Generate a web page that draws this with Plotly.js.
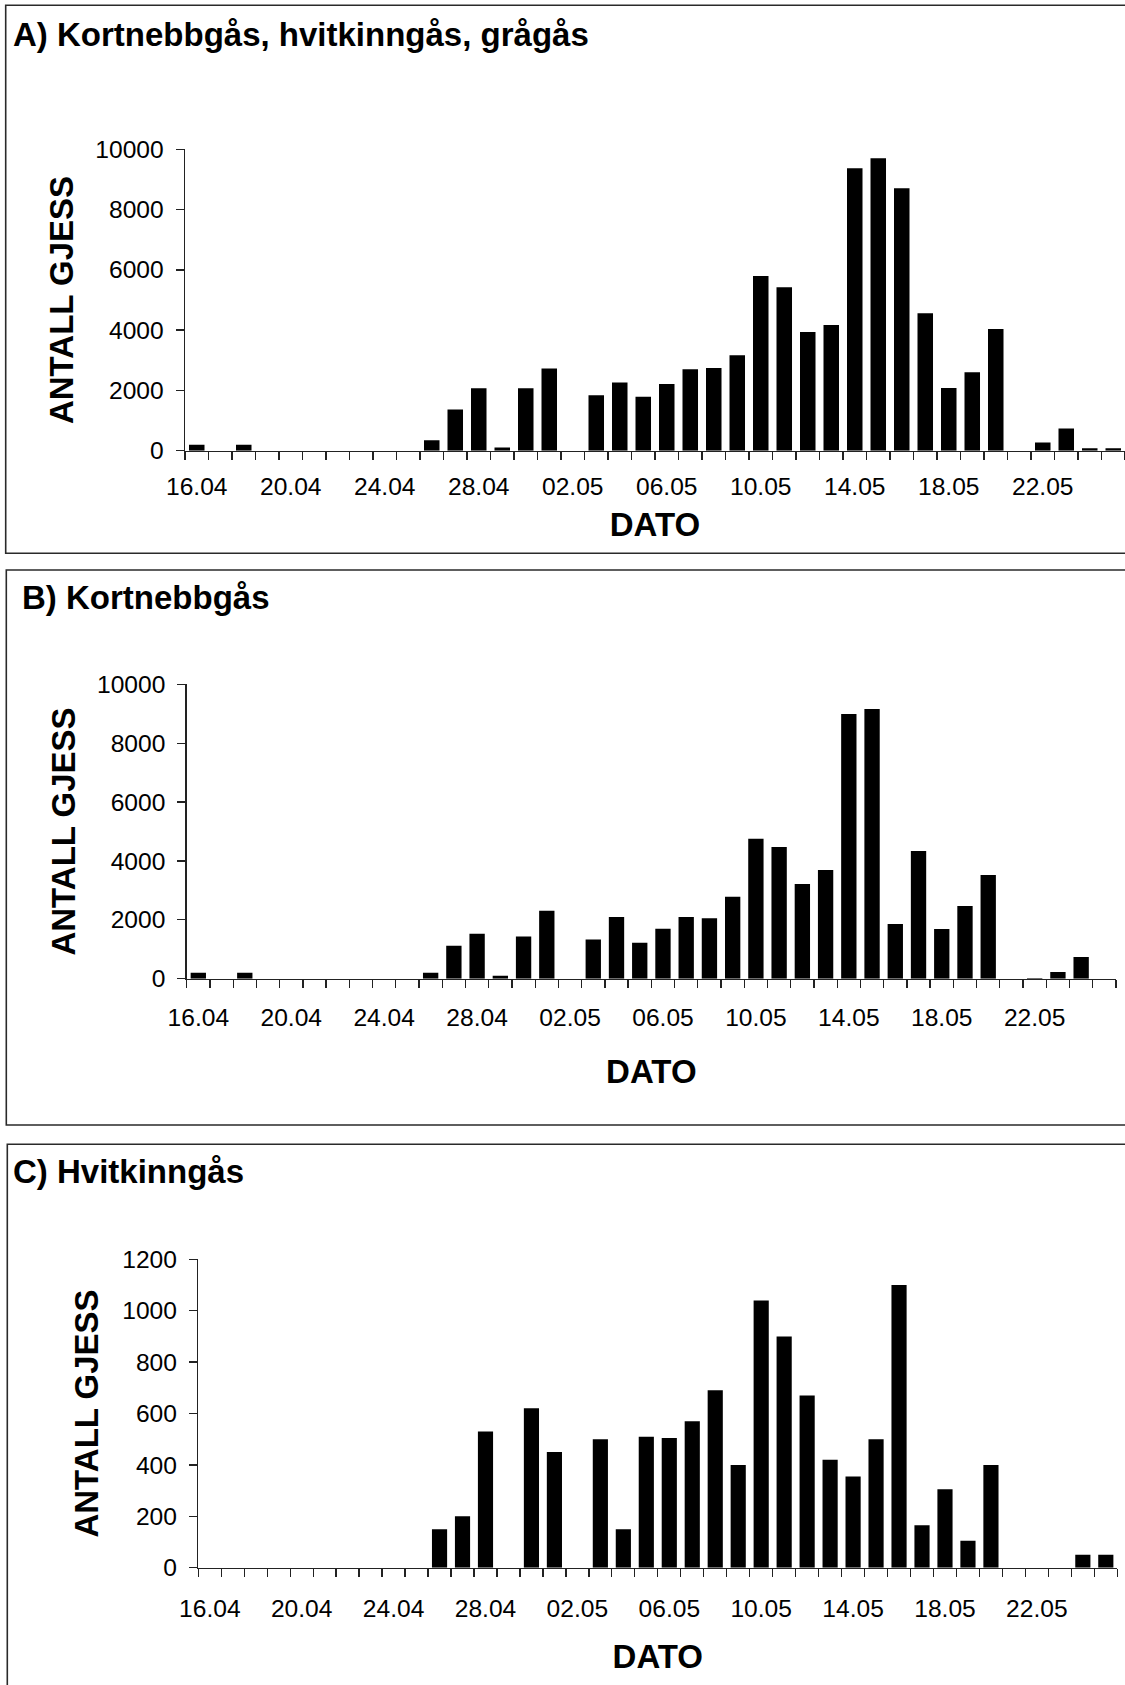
<!DOCTYPE html>
<html><head><meta charset="utf-8">
<script src="https://cdn.plot.ly/plotly-3.0.1.min.js"></script>
<style>html,body{margin:0;padding:0;overflow:hidden;background:#fff}</style>
</head><body>
<div id="chart" style="width:1125px;height:1685px"></div>
<script>
// Categories (one per day)
const dates = ['16.04','17.04','18.04','19.04','20.04','21.04','22.04','23.04','24.04','25.04',
  '26.04','27.04','28.04','29.04','30.04','01.05','02.05','03.05','04.05','05.05',
  '06.05','07.05','08.05','09.05','10.05','11.05','12.05','13.05','14.05','15.05',
  '16.05','17.05','18.05','19.05','20.05','21.05','22.05','23.05','24.05','25.05'];

// A) Kortnebbgås, hvitkinngås, grågås
const countsAll = [200,0,200,0,0,0,0,0,0,0,
  350,1370,2070,110,2070,2730,0,1840,2260,1790,
  2210,2700,2740,3170,5800,5420,3940,4170,9370,9700,
  8710,4560,2080,2600,4040,0,270,740,80,80];

// B) Kortnebbgås
const countsKortnebb = [200,0,200,0,0,0,0,0,0,0,
  200,1120,1530,100,1430,2310,0,1330,2100,1220,
  1700,2100,2050,2780,4750,4470,3220,3690,8990,9160,
  1860,4340,1690,2470,3520,0,25,230,740,0];

// C) Hvitkinngås
const countsHvitkinn = [0,0,0,0,0,0,0,0,0,0,
  150,200,530,0,620,450,0,500,150,510,
  505,570,690,400,1040,900,670,420,355,500,
  1100,165,305,105,400,0,0,0,50,50];

const yTicksAB = [0,2000,4000,6000,8000,10000];
const yTicksC = [0,200,400,600,800,1000,1200];
const panelTitles = ['A) Kortnebbgås, hvitkinngås, grågås','B) Kortnebbgås','C) Hvitkinngås'];
const xTitle = 'DATO';
const yTitle = 'ANTALL GJESS';

const W = 1125, H = 1685;
const FONT = 'Liberation Sans, Arial, sans-serif';
const px = v => v / W;
const py = v => 1 - v / H;

const xTickText = dates.map((d, i) => (i % 4 === 0 ? d : ''));

function xAxis(x0, x1, anchor, labStand, titleStand) {
  return {
    domain: [px(x0), Math.min(1, px(x1))], anchor: anchor, type: 'category',
    range: [-0.5, dates.length - 0.5], tickmode: 'array', tickvals: dates, ticktext: xTickText,
    tickson: 'boundaries', ticks: 'outside', ticklen: 8, tickwidth: 1.3, tickcolor: '#222',
    showline: true, linecolor: '#222', linewidth: 1.4, showgrid: false, zeroline: false,
    tickangle: 0, ticklabelstandoff: labStand,
    tickfont: {family: FONT, size: 24.6, color: '#000'},
    title: {text: xTitle, standoff: titleStand, font: {family: FONT, size: 33, weight: 'bold', color: '#000'}},
    automargin: false, fixedrange: true
  };
}
function yAxis(top, bottom, anchor, maxV, ticks, titleStand) {
  return {
    domain: [py(bottom), py(top)], anchor: anchor, range: [0, maxV],
    tickmode: 'array', tickvals: ticks, ticktext: ticks.map(String),
    ticks: 'outside', ticklen: 8, tickwidth: 1.3, tickcolor: '#222',
    showline: true, linecolor: '#222', linewidth: 1.4, showgrid: false, zeroline: false,
    ticklabelstandoff: 7,
    tickfont: {family: FONT, size: 24.6, color: '#000'},
    title: {text: yTitle, standoff: titleStand, font: {family: FONT, size: 33, weight: 'bold', color: '#000'}},
    automargin: false, fixedrange: true
  };
}

const barStyle = {color: '#000', line: {width: 0}};
const traces = [
  {type: 'bar', x: dates, y: countsAll, xaxis: 'x', yaxis: 'y', marker: barStyle, name: panelTitles[0]},
  {type: 'bar', x: dates, y: countsKortnebb, xaxis: 'x2', yaxis: 'y2', marker: barStyle, name: panelTitles[1]},
  {type: 'bar', x: dates, y: countsHvitkinn, xaxis: 'x3', yaxis: 'y3', marker: barStyle, name: panelTitles[2]}
];

function box(x0, y0, y1) {
  return {type: 'rect', xref: 'paper', yref: 'paper', x0: px(x0), x1: 1.05, y0: py(y1), y1: py(y0),
    line: {color: '#2a2a2a', width: 1.6}, fillcolor: 'rgba(0,0,0,0)', layer: 'below'};
}
function title(text, x, y) {
  return {text: text, xref: 'paper', yref: 'paper', x: px(x), y: py(y), xanchor: 'left', yanchor: 'middle',
    showarrow: false, font: {family: FONT, size: 33, weight: 'bold', color: '#000'}};
}

const layout = {
  width: W, height: H, margin: {l: 0, r: 0, t: 0, b: 0},
  paper_bgcolor: '#fff', plot_bgcolor: 'rgba(0,0,0,0)',
  showlegend: false, bargap: 0.34,
  font: {family: FONT, color: '#000'},
  xaxis: xAxis(185, 1126, 'y', 13, 14),
  yaxis: yAxis(149.3, 450.7, 'x', 10000, yTicksAB, 11),
  xaxis2: xAxis(186.7, 1116, 'y2', 16, 30),
  yaxis2: yAxis(684.3, 978.7, 'x2', 10000, yTicksAB, 11),
  xaxis3: xAxis(198.3, 1117.3, 'y3', 18, 24),
  yaxis3: yAxis(1259.3, 1567.7, 'x3', 1200, yTicksC, 13),
  shapes: [box(5.7, 5.3, 553.3), box(6.3, 570, 1125), box(7.3, 1144.3, 1720)],
  annotations: [title(panelTitles[0], 11, 34), title(panelTitles[1], 19.5, 597.5), title(panelTitles[2], 11, 1171)]
};

Plotly.newPlot('chart', traces, layout, {staticPlot: true, displayModeBar: false});
</script>
</body></html>
